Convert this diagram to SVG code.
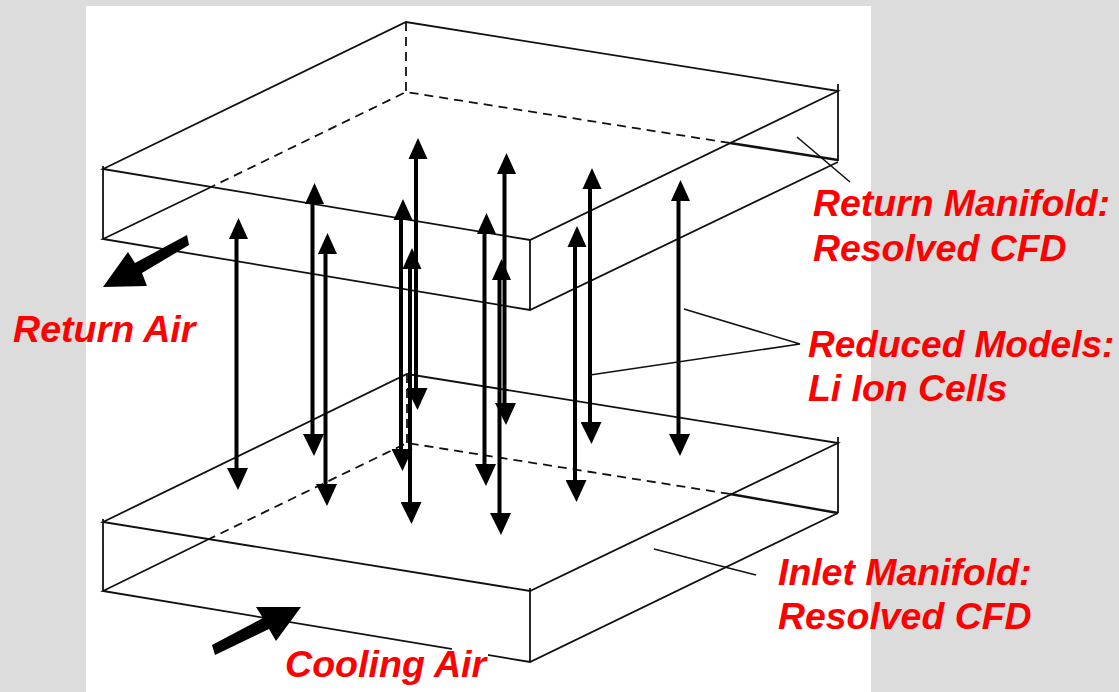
<svg xmlns="http://www.w3.org/2000/svg" width="1119" height="692" viewBox="0 0 1119 692">
<style>
.box{fill:none;stroke:#111;stroke-width:1.8}
.dash{fill:none;stroke:#111;stroke-width:1.8;stroke-dasharray:9 6}
.lead{fill:none;stroke:#111;stroke-width:1.6}
.cell{stroke:#000;stroke-width:4;fill:none;marker-start:url(#up);marker-end:url(#down)}
.big{fill:#000;stroke:none}
.lbl{font-family:"Liberation Sans",Arial,sans-serif;font-weight:700;font-style:italic;font-size:37.4px;fill:#ff0000}
</style>
<defs>
<marker id="up" markerUnits="userSpaceOnUse" markerWidth="20" markerHeight="21" refX="8" refY="20" orient="0" viewBox="0 0 20 21">
<path d="M10,0 L19.5,21 L0.5,21 Z" fill="#000"/>
</marker>
<marker id="down" markerUnits="userSpaceOnUse" markerWidth="22" markerHeight="22" refX="9.5" refY="1" orient="0" viewBox="0 0 22 22">
<path d="M0,0 L21,0 L11,22 Z" fill="#000"/>
</marker>
</defs>
<rect x="0" y="0" width="1119" height="692" fill="#dcdcdc"/>
<rect x="86" y="6" width="785" height="686" fill="#ffffff"/>
<g id="return-manifold">
<path class="box" d="M103,169 L406,22 L838,91 L530,240 Z"/>
<path class="box" d="M103,166 V239 M838,84 V161 M530,240 V310 M207,189 L103,239 L530,310 L838,162"/>
<path class="dash" d="M406,22 V92 M207,189 L406,92 L730,143"/>
<path d="M730,143 L838,160" fill="none" stroke="#111" stroke-width="2.6"/>
</g>
<g id="inlet-manifold">
<path class="box" d="M103,522 L407,374 L838,443 L530,591 Z"/>
<path class="box" d="M103,519 V591 M838,437 V513 M530,588 V662 M207,540 L103,591 L530,662 L838,513"/>
<path class="dash" d="M407,374 V443 M207,540 L407,443 L730,494"/>
<path d="M730,494 L838,513" fill="none" stroke="#111" stroke-width="2.4"/>
</g>
<g id="connectors">
<line class="cell" x1="236.5" y1="238" x2="236.5" y2="469"/>
<line class="cell" x1="312.5" y1="203" x2="312.5" y2="435"/>
<line class="cell" x1="325.5" y1="253" x2="325.5" y2="485"/>
<line class="cell" x1="401" y1="219" x2="401" y2="450"/>
<line class="cell" x1="416" y1="158" x2="416" y2="389"/>
<line class="cell" x1="410" y1="268" x2="410" y2="503"/>
<line class="cell" x1="484.5" y1="233" x2="484.5" y2="465"/>
<line class="cell" x1="504.5" y1="173" x2="504.5" y2="404"/>
<line class="cell" x1="499.5" y1="279" x2="499.5" y2="514"/>
<line class="cell" x1="575" y1="246" x2="575" y2="481"/>
<line class="cell" x1="590" y1="188" x2="590" y2="423"/>
<line class="cell" x1="678.5" y1="200" x2="678.5" y2="435"/>
<path class="lead" d="M797,137 L850,182 M684,309 L800,344 L590,375 M654,549 L756,575"/>
<path id="return-air-arrow" class="big" d="M187,235 L189,245 L142,273 L147,286 L103,287 L128,252 L135,263 Z"/>
<path id="cooling-air-arrow" class="big" d="M212,645 L215,655 L269,629 L276,641 L301,607 L256,607 L263,618 Z"/>
</g>
<rect x="452" y="648" width="36" height="44" fill="#ffffff"/>
<g id="labels">
<text class="lbl" x="813" y="216">Return Manifold:</text>
<text class="lbl" x="813" y="261">Resolved CFD</text>
<text class="lbl" x="808" y="357" style="font-size:37px">Reduced Models:</text>
<text class="lbl" x="808" y="401">Li Ion Cells</text>
<text class="lbl" x="778" y="585">Inlet Manifold:</text>
<text class="lbl" x="778" y="629">Resolved CFD</text>
<text class="lbl" x="13" y="341.5" style="font-size:37.6px">Return Air</text>
<text class="lbl" x="285" y="677" style="font-size:37.6px">Cooling Air</text>
</g>
</svg>
